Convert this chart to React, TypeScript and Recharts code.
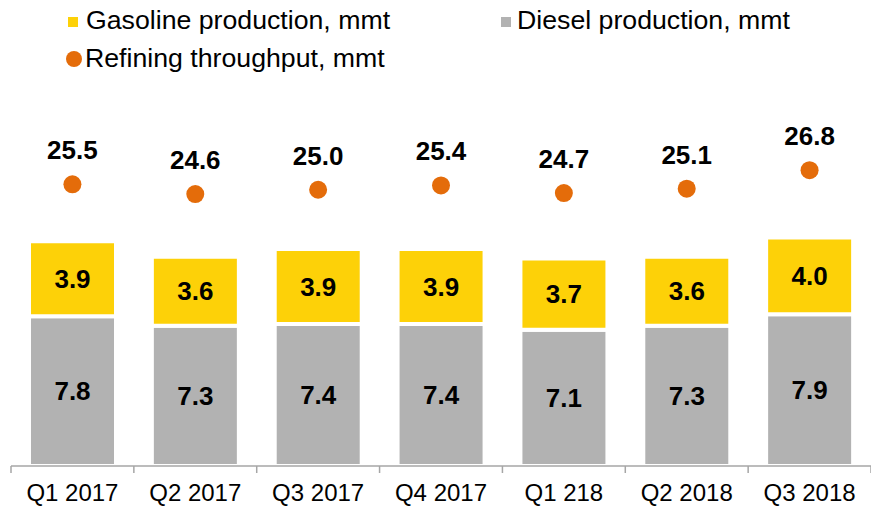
import React from 'react';
import { ComposedChart, Bar, Scatter, XAxis, YAxis, LabelList, Legend } from 'recharts';

const categories = ['Q1 2017', 'Q2 2017', 'Q3 2017', 'Q4 2017', 'Q1 218', 'Q2 2018', 'Q3 2018'];
const diesel = [7.8, 7.3, 7.4, 7.4, 7.1, 7.3, 7.9];
const gasoline = [3.9, 3.6, 3.9, 3.9, 3.7, 3.6, 4.0];
const refining = [25.5, 24.6, 25.0, 25.4, 24.7, 25.1, 26.8];

const data = categories.map((name, i) => ({
  name,
  diesel: diesel[i],
  gasoline: gasoline[i],
  refining: refining[i],
}));

const YELLOW = '#FDD108';
const GRAY = '#B2B2B2';
const ORANGE = '#E46C0A';
const AXIS = '#A6A6A6';
const FONT = '"Liberation Sans", Arial, Helvetica, sans-serif';

const fmt = (v: any) => Number(v).toFixed(1);

const Tick = (props: any) => {
  const { x, y, payload, index, visibleTicksCount } = props;
  const half = payload && payload.offset != null ? payload.offset : 0;
  const axisY = y - 18;
  return (
    <g>
      <line x1={x - half} x2={x - half} y1={axisY} y2={axisY + 7} stroke={AXIS} strokeWidth={1.5} />
      {index === visibleTicksCount - 1 && (
        <line x1={x + half} x2={x + half} y1={axisY} y2={axisY + 7} stroke={AXIS} strokeWidth={1.5} />
      )}
      <text x={x} y={y} dy={17} textAnchor="middle" fontFamily={FONT} fontSize={24} fill="#000">
        {payload.value}
      </text>
    </g>
  );
};

const DotShape = (props: any) => {
  const { cx, cy, payload } = props;
  return (
    <g>
      <circle cx={cx} cy={cy} r={9} fill={ORANGE} />
      <text x={cx} y={cy - 25} textAnchor="middle" fontFamily={FONT} fontSize={26} fontWeight="bold" fill="#000">
        {fmt(payload.refining)}
      </text>
    </g>
  );
};

const LegendContent = () => (
  <div style={{ position: 'relative', width: 871, height: 0 }}>
    <svg width={871} height={80} style={{ position: 'absolute', left: 0, top: 0, overflow: 'visible' }}>
      <rect x={68} y={17} width={10} height={10} fill={YELLOW} />
      <text x={86} y={29.3} fontFamily={FONT} fontSize={26.7} fill="#000">Gasoline production, mmt</text>
      <rect x={501} y={17} width={10} height={10} fill={GRAY} />
      <text x={517} y={29.3} fontFamily={FONT} fontSize={26.7} fill="#000">Diesel production, mmt</text>
      <circle cx={74} cy={59} r={8} fill={ORANGE} />
      <text x={85} y={66.7} fontFamily={FONT} fontSize={26.7} fill="#000">Refining throughput, mmt</text>
    </svg>
  </div>
);

export default function App() {
  return (
    <div style={{ position: 'absolute', left: 0, top: 0, width: 871, height: 506, background: '#fff' }}>
      <ComposedChart
        width={871}
        height={506}
        data={data}
        margin={{ top: 90, right: 0, left: 11, bottom: 0 }}
      >
        <XAxis
          dataKey="name"
          height={40}
          tickSize={7}
          tickMargin={11}
          tickLine={false}
          axisLine={{ stroke: AXIS, strokeWidth: 1.5 }}
          tick={<Tick />}
          interval={0}
        />
        <YAxis yAxisId="left" hide domain={[0, 19.58]} />
        <YAxis yAxisId="right" orientation="right" hide domain={[-0.34, 34.15]} />
        <Legend verticalAlign="top" content={<LegendContent />} wrapperStyle={{ top: 0, left: 0 }} />
        <Bar yAxisId="left" dataKey="diesel" stackId="a" fill={GRAY} stroke="#fff" strokeWidth={4} barSize={87} isAnimationActive={false}>
          <LabelList dataKey="diesel" position="center" formatter={fmt} fill="#000" fontFamily={FONT} fontSize={26} fontWeight="bold" />
        </Bar>
        <Bar yAxisId="left" dataKey="gasoline" stackId="a" fill={YELLOW} stroke="#fff" strokeWidth={4} barSize={87} isAnimationActive={false}>
          <LabelList dataKey="gasoline" position="center" formatter={fmt} fill="#000" fontFamily={FONT} fontSize={26} fontWeight="bold" />
        </Bar>
        <Scatter yAxisId="right" dataKey="refining" fill={ORANGE} shape={<DotShape />} isAnimationActive={false} />
      </ComposedChart>
    </div>
  );
}
